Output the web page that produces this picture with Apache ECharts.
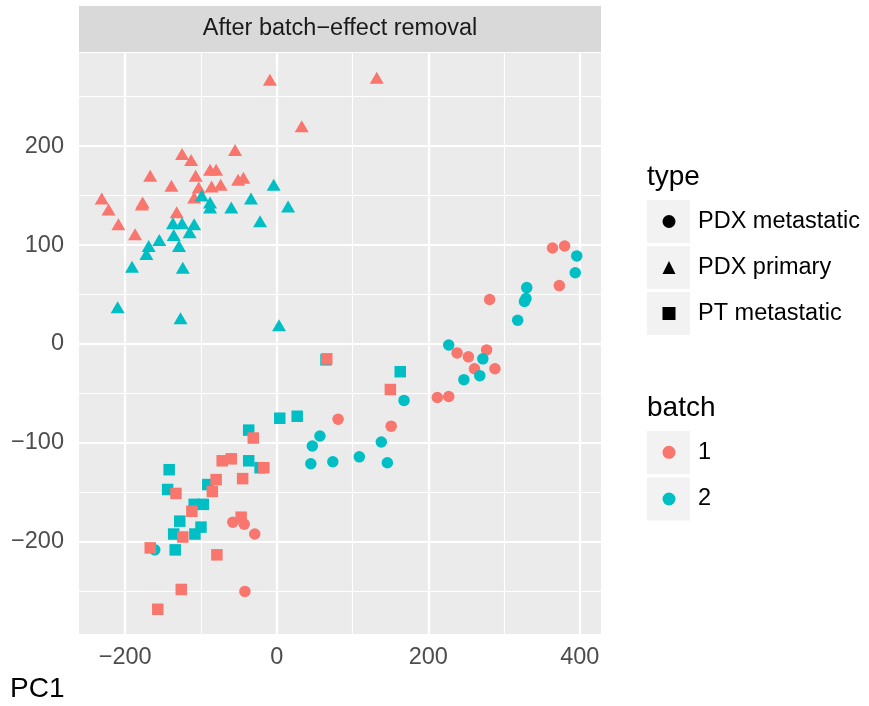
<!DOCTYPE html>
<html>
<head>
<meta charset="utf-8">
<script src="https://cdn.jsdelivr.net/npm/echarts@6/dist/echarts.min.js"></script>
<style>
html, body { margin: 0; padding: 0; background: #fff; }
#main { width: 869px; height: 706px; }
</style>
</head>
<body>
<div id="main"></div>
<script>
// PC1 / PC2 values
var metBatch1 = [[-58,-180],[-43,-182],[-29,-192],[-42,-250],[81,-76],[151,-83],[281,45],[212,-54],[227,-53],
  [238,-9],[253,-13],[277,-6],[261,-25],[288,-25],[364,97],[380,99],[373,59]];
var metBatch2 = [[-161,-208],[57,-93],[47,-103],[45,-121],[74,-119],[109,-114],[138,-99],[146,-120],[168,-57],
  [227,-1],[272,-15],[268,-32],[247,-36],[318,24],[327,43],[329,46],[330,57],[396,89],[394,72]];
var priBatch1 = [[-9,267],[132,269],[33,220],[-55,196],[-125,192],[-113,186],[-88,176],[-80,176],[-107,170],
  [-167,170],[-44,168],[-51,166],[-139,160],[-103,158],[-86,159],[-74,161],[-109,148],[-231,147],[-177,143],
  [-178,141],[-222,136],[-132,133],[-209,121],[-187,111]];
var priBatch2 = [[-4,161],[-99,150],[-88,143],[-88,138],[-34,147],[-60,138],[15,139],[-22,124],[-137,122],
  [-125,122],[-109,121],[-136,110],[-115,113],[-155,105],[-129,99],[-169,99],[-172,91],[-191,78],[-124,77],
  [-210,37],[-127,26],[3,19]];
var ptBatch1 = [[66,-15],[-31,-95],[-72,-118],[-60,-116],[-17,-125],[-80,-137],[-45,-136],[-85,-149],[-133,-151],
  [-112,-169],[-47,-175],[-124,-195],[-167,-206],[-79,-213],[-126,-248],[-157,-268],[150,-46]];
var ptBatch2 = [[65,-16],[4,-75],[27,-73],[-37,-87],[-37,-118],[-22,-125],[-142,-127],[-144,-147],[-91,-142],
  [-109,-162],[-97,-162],[-128,-179],[-100,-185],[-136,-192],[-108,-192],[-134,-208],[163,-28]];

var typeNames = ['PDX metastatic', 'PDX primary', 'PT metastatic'];
var typeIcons = ['circle', 'triangle', 'rect'];
var batchNames = ['1', '2'];
var batchColors = ['#F8766D', '#00BFC4'];

var xTicks = [-200, 0, 200, 400];
var xMinor = [-100, 100, 300];
var yTicks = [-200, -100, 0, 100, 200];
var yMinor = [-250, -150, -50, 50, 150, 250];

var font = 'Liberation Sans, Arial, sans-serif';
var minus = function (v) { return String(v).replace('-', '\u2212'); };

var gridLines = [];
xMinor.forEach(function (v) { gridLines.push({ xAxis: v, lineStyle: { width: 1.1 } }); });
yMinor.forEach(function (v) { gridLines.push({ yAxis: v, lineStyle: { width: 1.1 } }); });
xTicks.forEach(function (v) { gridLines.push({ xAxis: v, lineStyle: { width: 2.2 } }); });
yTicks.forEach(function (v) { gridLines.push({ yAxis: v, lineStyle: { width: 2.2 } }); });

function pts(name, data, symbol, size, color) {
  return {
    name: name, type: 'scatter', data: data, symbol: symbol, symbolSize: size, z: 3,
    itemStyle: { color: color, opacity: 1 }, emphasis: { disabled: true }
  };
}

var chart = echarts.init(document.getElementById('main'));
chart.setOption({
  animation: false,
  backgroundColor: '#fff',
  grid: { left: 79, top: 53, width: 522, height: 581, show: true, backgroundColor: '#EBEBEB', borderWidth: 0 },
  xAxis: {
    type: 'value', min: -261, max: 428,
    axisLine: { show: false }, splitLine: { show: false },
    axisTick: { show: true, length: 6, lineStyle: { color: '#333', width: 2 }, customValues: xTicks },
    axisLabel: { customValues: xTicks, formatter: minus, fontSize: 23.5, color: '#4D4D4D', margin: 12, fontFamily: font }
  },
  yAxis: {
    type: 'value', min: -293, max: 294,
    axisLine: { show: false }, splitLine: { show: false },
    axisTick: { show: true, length: 6, lineStyle: { color: '#333', width: 2 }, customValues: yTicks },
    axisLabel: { customValues: yTicks, formatter: minus, fontSize: 23.5, color: '#4D4D4D', margin: 15, fontFamily: font }
  },
  legend: [{
    data: typeNames.map(function (n, i) { return { name: n, icon: typeIcons[i], itemStyle: { color: '#000', opacity: 1 } }; }),
    orient: 'vertical', left: 662.5, top: 198.5, itemWidth: 13, itemHeight: 13, itemGap: 0, padding: 0,
    selectedMode: false,
    textStyle: { fontSize: 23.5, lineHeight: 46, color: '#000', fontFamily: font, padding: [0, 0, 0, 17.5] }
  }, {
    data: batchNames.map(function (n, i) { return { name: n, icon: 'circle', itemStyle: { color: batchColors[i], opacity: 1 } }; }),
    orient: 'vertical', left: 662.5, top: 429.3, itemWidth: 13, itemHeight: 13, itemGap: 0.7, padding: 0,
    selectedMode: false,
    textStyle: { fontSize: 23.5, lineHeight: 46, color: '#000', fontFamily: font, padding: [0, 0, 0, 17.5] }
  }],
  graphic: [
    { type: 'rect', left: 79, top: 6, shape: { width: 522, height: 46 }, style: { fill: '#D9D9D9' } },
    { type: 'text', x: 340, y: 29, style: { text: 'After batch\u2212effect removal', fontSize: 23.5, fontFamily: font,
      fill: '#1A1A1A', align: 'center', verticalAlign: 'middle' } },
    { type: 'text', x: 647, y: 177, style: { text: 'type', fontSize: 28, fontFamily: font, fill: '#000', verticalAlign: 'middle' } },
    { type: 'text', x: 647, y: 408.5, style: { text: 'batch', fontSize: 28, fontFamily: font, fill: '#000', verticalAlign: 'middle' } },
    { type: 'text', x: 10, y: 689.5, style: { text: 'PC1', fontSize: 28, fontFamily: font, fill: '#000', verticalAlign: 'middle' } },
    { type: 'rect', x: 647, y: 200, z: -1, shape: { width: 43, height: 43 }, style: { fill: '#F2F2F2' } },
    { type: 'rect', x: 647, y: 246, z: -1, shape: { width: 43, height: 43 }, style: { fill: '#F2F2F2' } },
    { type: 'rect', x: 647, y: 292, z: -1, shape: { width: 43, height: 43 }, style: { fill: '#F2F2F2' } },
    { type: 'rect', x: 647, y: 431, z: -1, shape: { width: 43, height: 43 }, style: { fill: '#F2F2F2' } },
    { type: 'rect', x: 647, y: 477.5, z: -1, shape: { width: 43, height: 43 }, style: { fill: '#F2F2F2' } }
  ],
  series: [
    {
      type: 'scatter', data: [], z: 1, silent: true,
      markLine: {
        silent: true, z: 1, symbol: ['none', 'none'], label: { show: false }, animation: false,
        lineStyle: { type: 'solid', color: '#fff' }, emphasis: { disabled: true },
        data: gridLines
      }
    },
    pts(typeNames[0], metBatch1, 'circle', 11.5, batchColors[0]),
    pts(typeNames[0], metBatch2, 'circle', 11.5, batchColors[1]),
    pts(typeNames[1], priBatch1, 'triangle', [14, 12], batchColors[0]),
    pts(typeNames[1], priBatch2, 'triangle', [14, 12], batchColors[1]),
    pts(typeNames[2], ptBatch2, 'rect', 11.5, batchColors[1]),
    pts(typeNames[2], ptBatch1, 'rect', 11.5, batchColors[0]),
    { name: batchNames[0], type: 'scatter', data: [], itemStyle: { color: batchColors[0], opacity: 1 } },
    { name: batchNames[1], type: 'scatter', data: [], itemStyle: { color: batchColors[1], opacity: 1 } }
  ]
});
</script>
</body>
</html>
